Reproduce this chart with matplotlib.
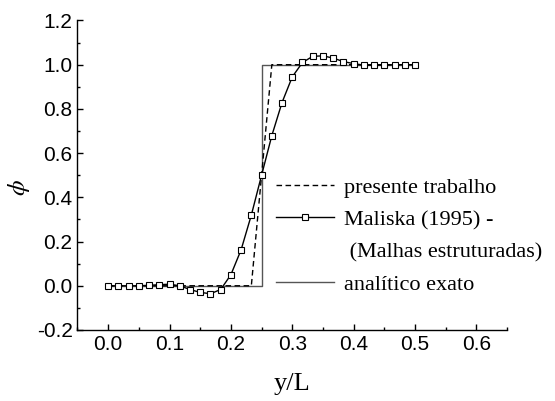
import matplotlib
matplotlib.use("Agg")
import matplotlib.pyplot as plt
from matplotlib.lines import Line2D
from matplotlib.ticker import MultipleLocator
import numpy as np

# -- data ----------------------------------------------------------------------
# Maliska (1995), structured mesh, points every 1/60
maliska_x = np.arange(31) / 60.0
maliska_y = [0.000, 0.000, 0.000, 0.000, 0.002, 0.005, 0.007, 0.000,
             -0.017, -0.030, -0.036, -0.017, 0.050, 0.163, 0.320, 0.500,
             0.679, 0.829, 0.945, 1.010, 1.038, 1.040, 1.030, 1.014,
             1.005, 0.998, 0.998, 0.999, 1.000, 1.000, 1.000]

# present work
presente_x = [0.0, 0.2333, 0.25, 0.2667, 0.5]
presente_y = [0.0, 0.0, 0.5, 1.0, 1.0]

# exact analytic solution
exato_x = [0.0, 0.25, 0.25, 0.5]
exato_y = [0.0, 0.0, 1.0, 1.0]

xticks = [0.0, 0.1, 0.2, 0.3, 0.4, 0.5, 0.6]
yticks = [-0.2, 0.0, 0.2, 0.4, 0.6, 0.8, 1.0, 1.2]

INK = "#000000"
GREY = "#555555"

plt.rcParams["mathtext.fontset"] = "stix"

fig = plt.figure(figsize=(5.55, 4.01), dpi=100)
ax = fig.add_axes([0.1396, 0.1771, 0.774, 0.7718])

ax.plot(exato_x, exato_y, color=GREY, lw=1.0)
ax.plot(presente_x, presente_y, color=INK, lw=1.0, linestyle=(0, (4, 2.5)))
ax.plot(maliska_x, maliska_y, color=INK, lw=1.0, marker="s", ms=4.6,
        mfc="white", mec=INK, mew=0.8)

ax.set_xlim(-0.05, 0.65)
ax.set_ylim(-0.2, 1.2)
ax.set_xticks(xticks)
ax.set_yticks(yticks)
ax.set_xticklabels([f"{v:.1f}" for v in xticks])
ax.set_yticklabels([f"{v:.1f}" for v in yticks])
ax.xaxis.set_minor_locator(MultipleLocator(0.05))
ax.yaxis.set_minor_locator(MultipleLocator(0.1))

for side in ("top", "right"):
    ax.spines[side].set_visible(False)
for side in ("left", "bottom"):
    ax.spines[side].set_linewidth(1.0)

ax.tick_params(which="major", direction="in", length=4.5, width=1.0,
               labelsize=15, pad=3.5)
ax.tick_params(which="minor", direction="in", length=2.5, width=1.0)
for lab in ax.get_xticklabels() + ax.get_yticklabels():
    lab.set_fontfamily("Liberation Sans")

ax.set_xlabel("y/L", fontsize=19, fontfamily="Liberation Serif", labelpad=14)
ax.set_ylabel(r"$\phi$", fontsize=18)
ax.yaxis.set_label_coords(-0.105, 0.46)

handles = [
    Line2D([], [], color=INK, lw=1.0, linestyle=(0, (4, 2.5))),
    Line2D([], [], color=INK, lw=1.0, marker="s", ms=4, mfc="white",
           mec=INK, mew=0.8),
    Line2D([], [], color="none"),
    Line2D([], [], color=GREY, lw=1.0),
]
labels = ["presente trabalho", "Maliska (1995) -", " (Malhas estruturadas)",
          "analítico exato"]
leg = ax.legend(handles, labels, loc="upper left",
                bbox_to_anchor=(276 / 555, 1 - 177 / 401),
                bbox_transform=fig.transFigure, frameon=False,
                prop={"family": "Liberation Serif", "size": 16},
                handlelength=2.6, handletextpad=0.45, labelspacing=0.54,
                borderpad=0.0, borderaxespad=0.0)

fig.savefig("out.png", dpi=100)
